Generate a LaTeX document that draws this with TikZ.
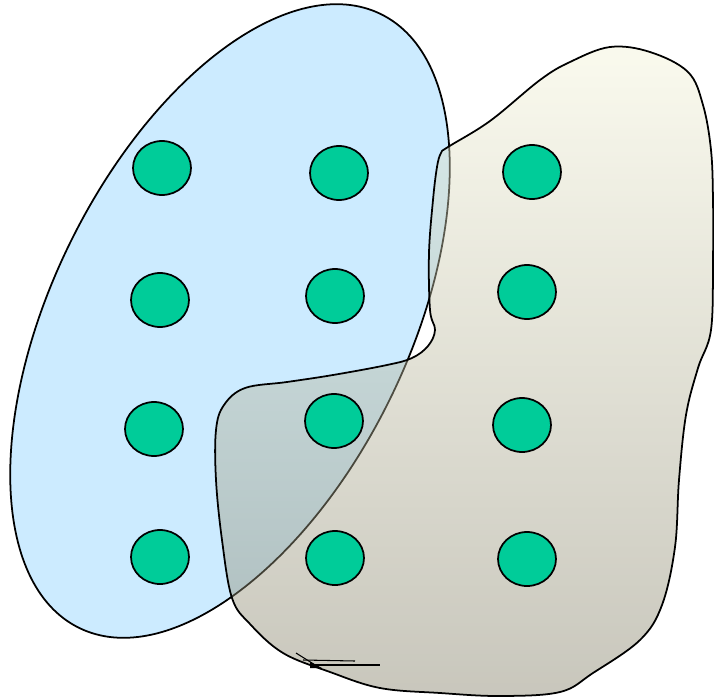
\documentclass[tikz,border=0pt]{standalone}
\usetikzlibrary{shapes.geometric}
\definecolor{setblue}{RGB}{204,235,255}
\definecolor{dotgreen}{RGB}{0,204,153}
\definecolor{blobtop}{RGB}{243,243,215}
\definecolor{blobbot}{RGB}{128,124,100}
\begin{document}
\begin{tikzpicture}[x=0.02cm,y=-0.02cm,
  outline/.style={draw=black,line width=1pt},
  dot/.style={ellipse,draw=black,line width=1pt,fill=dotgreen,inner sep=0pt,minimum width=1.16cm,minimum height=1.08cm},
  blobshade/.style={top color=blobtop,bottom color=blobbot,fill opacity=0.43}]
\useasboundingbox (0,0) rectangle (714,700);
% blue tilted set
\draw[outline,fill=setblue,rotate around={63.8:(230,321)}] (230,321) ellipse [x radius=342,y radius=178];
% freeform set
\draw[outline,line join=round,preaction={blobshade}] plot[smooth cycle,tension=0.6] coordinates {
 (448,147) (490,121) (540,80) (570,62) (610,47) (650,52) (688,72)
 (703,105) (711,150) (713,200) (713,260) (711,330) (698,368)
 (686,415) (679,480) (675,547) (662,605) (640,640)
 (593,673) (560,692) (500,696) (440,693) (380,688) (330,672)
 (283,653) (250,624) (232,598) (222,540) (216,480) (216,430) (224,405)
 (245,388) (287,382) (333,375) (387,365) (412,358)
 (428,346) (435,330) (430,310) (429,253) (433,200) (437,167) (441,153)};
% small stroke near the bottom
\draw[line width=0.6pt] (296,653) -- (320,668);
\draw[line width=0.6pt] (303,660) -- (355,661);
\draw[line width=0.6pt] (312,665) -- (380,665);
\fill (310,662) -- (322,668) -- (310,668) -- cycle;
% elements
\node[dot] (d11) at (162,168) {};
\node[dot] (d12) at (339,173) {};
\node[dot] (d13) at (532,172) {};
\node[dot] (d21) at (160,300) {};
\node[dot] (d22) at (335,296) {};
\node[dot] (d23) at (527,292) {};
\node[dot] (d31) at (154,429) {};
\node[dot] (d32) at (334,421) {};
\node[dot] (d33) at (522,425) {};
\node[dot] (d41) at (160,557) {};
\node[dot] (d42) at (335,558) {};
\node[dot] (d43) at (527,559) {};
\end{tikzpicture}
\end{document}
